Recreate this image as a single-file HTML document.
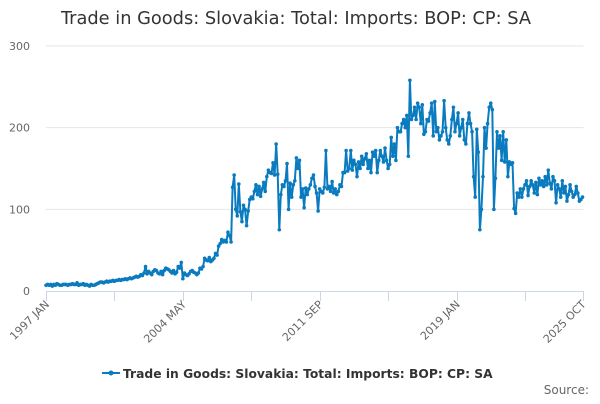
<!DOCTYPE html>
<html><head><meta charset="utf-8"><style>
body{margin:0;background:#fff;font-family:"DejaVu Sans","Liberation Sans",sans-serif;}
</style></head><body>
<svg width="600" height="400" xmlns="http://www.w3.org/2000/svg" id="c" font-family="DejaVu Sans, Liberation Sans, sans-serif">
<text x="296" y="24" text-anchor="middle" font-size="17.8" fill="#333">Trade in Goods: Slovakia: Total: Imports: BOP: CP: SA</text>
<g id="grid"></g><g id="xaxis"></g><g id="series"></g>
<g>
<line x1="102" y1="373" x2="120" y2="373" stroke="#0a7bbf" stroke-width="2"/>
<circle cx="111" cy="373" r="2.5" fill="#0a7bbf"/>
<text x="123" y="378" font-size="12.3" font-weight="bold" fill="#333">Trade in Goods: Slovakia: Total: Imports: BOP: CP: SA</text>
</g>
<text x="589" y="394" text-anchor="end" font-size="12" fill="#666">Source:</text>
</svg>
<script>
const yTicks=[0,100,200,300];
const xTickLabels=["1997 JAN","2004 MAY","2011 SEP","2019 JAN","2025 OCT"];
const xTickIdx=[0,88,176,264,345];
const values=[
7,8,7,8,6,8,7,9,8,7,7,8,
8,8,7,8,8,9,8,8,10,7,8,8,
9,7,8,7,6,8,7,7,8,9,10,11,
11,10,11,12,11,12,12,13,12,13,13,14,
13,14,14,15,14,15,16,15,16,17,18,17,
18,20,19,22,30,21,24,22,20,24,26,25,
22,21,24,20,25,28,27,26,24,22,25,21,
23,30,28,35,15,22,20,19,21,24,25,23,
22,20,22,28,27,30,40,38,37,41,36,38,
40,46,44,55,58,63,60,62,60,72,68,60,
127,142,100,92,131,97,85,105,100,80,98,112,
115,113,122,130,118,128,116,125,133,122,140,148,
145,144,157,142,180,143,75,118,130,128,135,156,
100,132,115,130,135,163,150,160,115,125,102,126,
118,125,130,138,142,128,120,98,125,122,120,127,
172,125,128,122,134,120,125,118,122,130,128,145,
145,172,147,150,172,148,160,155,140,158,150,165,
155,162,168,150,160,145,170,165,172,145,160,172,
165,158,175,160,150,155,188,165,180,160,200,195,
195,205,210,200,215,165,258,210,215,225,210,230,
225,205,228,192,195,210,208,218,230,190,232,195,
200,185,190,195,233,200,185,180,190,210,225,195,
205,218,190,200,210,185,180,205,218,205,195,140,
115,198,170,75,100,140,200,175,205,225,230,222,
100,138,195,175,190,160,195,158,185,140,158,155,
157,101,95,120,115,125,115,125,130,135,117,128,
135,130,120,133,118,138,130,135,128,140,130,148,
132,125,140,135,108,130,125,115,135,120,128,110,
118,130,122,115,118,128,120,110,112,115];
const X0=46,X1=582.5,Y0=291,Y300=46;
const N=values.length-1;
function xs(i){return X0+(X1-X0)*i/N;}
function ys(v){return Y0-(Y0-Y300)*v/300;}
const NS="http://www.w3.org/2000/svg";
function mk(t,a,p){const e=document.createElementNS(NS,t);for(const k in a)e.setAttribute(k,a[k]);p.appendChild(e);return e;}
const grid=document.getElementById('grid');
yTicks.forEach(v=>{
  if(v>0){const l=mk('line',{x1:X0,x2:X1+1,y1:ys(v),y2:ys(v),stroke:'#e6e6e6'},grid);
  
  }
  const t=mk('text',{x:30,y:ys(v)+4,'text-anchor':'end','font-size':'11',fill:'#666'},grid);
  t.textContent=v;
  
  
});
const xa=document.getElementById('xaxis');
const ax=mk('line',{x1:X0,x2:X1+1,y1:Y0+0.5,y2:Y0+0.5,stroke:'#ccd6eb'},xa);


for(let i=0;i<=N;i+=44){
  const x=Math.round(xs(i))+0.5;
  const tk=mk('line',{x1:x,x2:x,y1:Y0,y2:Y0+10,stroke:'#ccd6eb'},xa);
  
  
}
const lt=mk('line',{x1:Math.round(xs(N))+0.5,x2:Math.round(xs(N))+0.5,y1:Y0,y2:Y0+10,stroke:'#ccd6eb'},xa);


xTickLabels.forEach((s,k)=>{
  const x=xs(xTickIdx[k])+4,y=Y0+14;
  const t=mk('text',{x:x,y:y,'text-anchor':'end','font-size':'11',fill:'#666',transform:`rotate(-45 ${x} ${y})`},xa);
  t.textContent=s;
  
  
});
const sg=document.getElementById('series');
const pts=values.map((v,i)=>xs(i).toFixed(1)+','+ys(v).toFixed(1)).join(' ');
const pl=mk('polyline',{points:pts,fill:'none',stroke:'#0a7bbf','stroke-width':2,'stroke-linejoin':'round'},sg);


values.forEach((v,i)=>{
  const c=mk('circle',{cx:xs(i),cy:ys(v),r:1.8,fill:'#0a7bbf'},sg);
  
  
});
</script>
</body></html>
